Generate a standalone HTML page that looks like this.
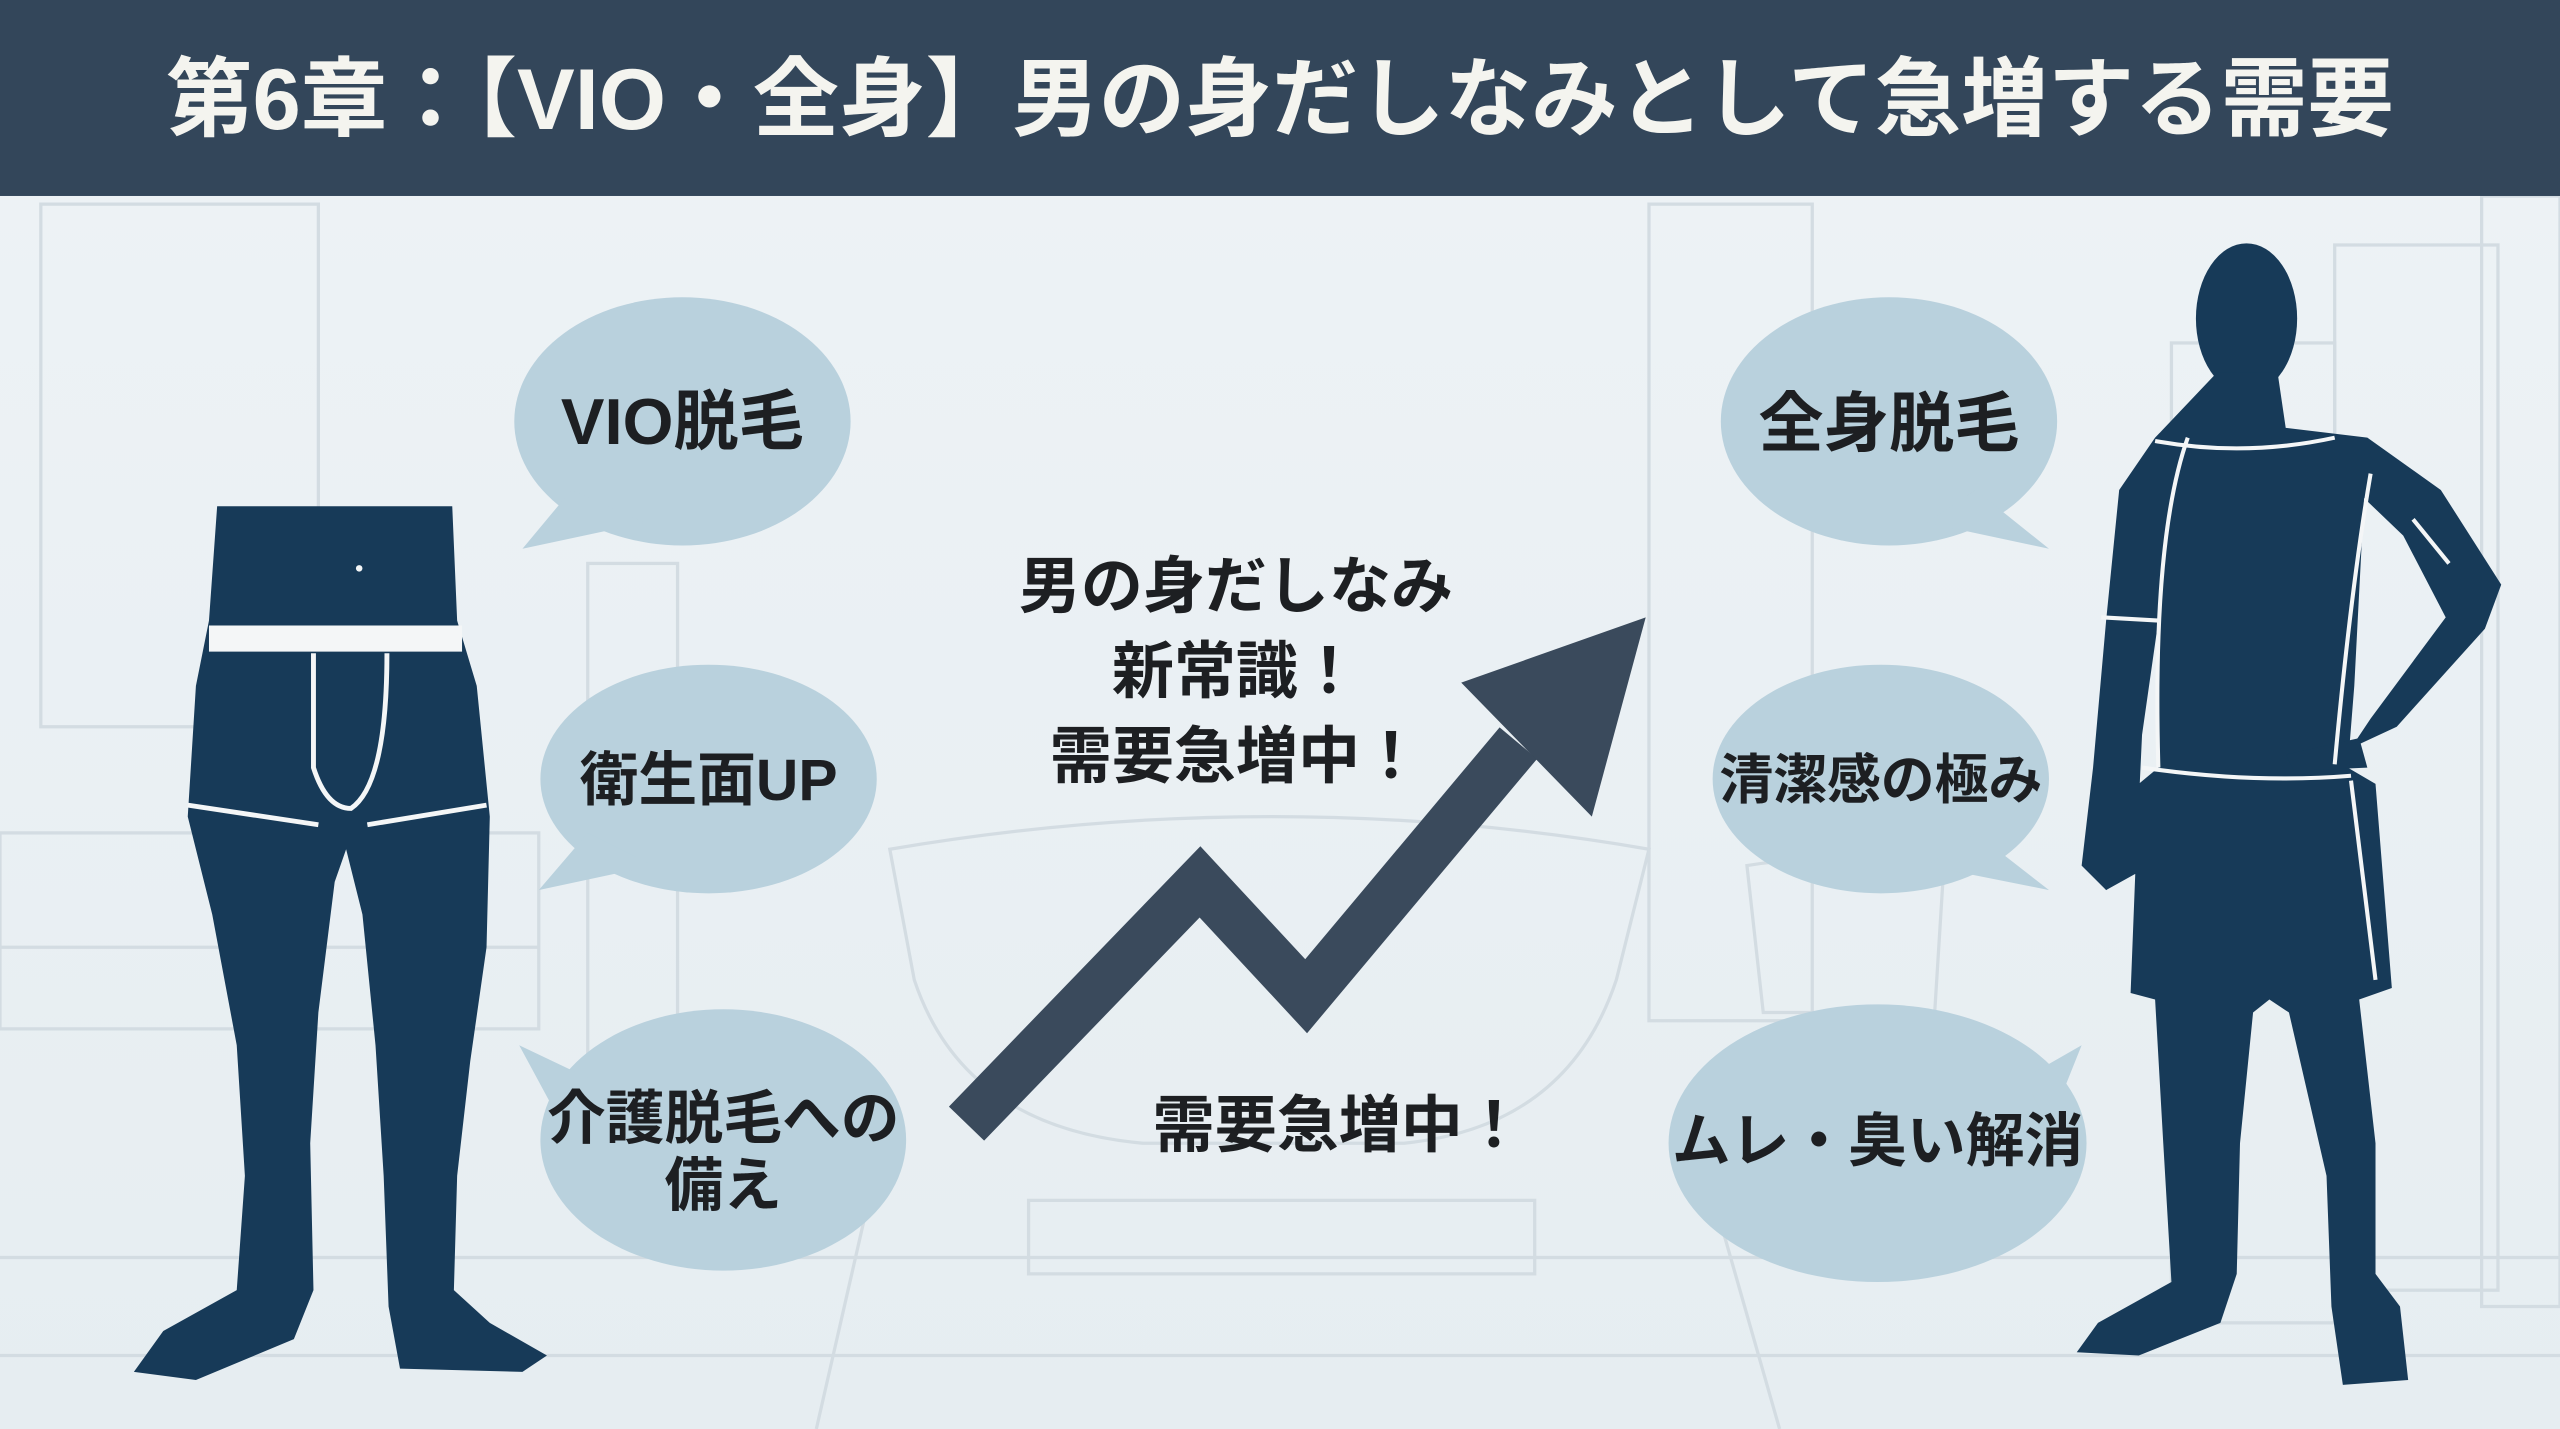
<!DOCTYPE html>
<html><head><meta charset="utf-8"><style>
html,body{margin:0;padding:0;width:2560px;height:1429px;overflow:hidden;background:#edf2f5}
svg{display:block}
text{font-family:"Liberation Sans","Noto Sans CJK JP",sans-serif;font-weight:700}
</style></head><body>
<svg width="2560" height="1429" viewBox="0 0 1568 875" preserveAspectRatio="none">
<defs><linearGradient id="bg" x1="0" y1="0" x2="0" y2="1"><stop offset="0" stop-color="#eef3f6"/><stop offset="1" stop-color="#e6edf1"/></linearGradient></defs>
<rect x="0" y="0" width="1568" height="875" fill="url(#bg)"/>
<g fill="none" stroke="#d3dce2" stroke-width="2">
<rect x="25" y="125" width="170" height="320"/>
<rect x="0" y="510" width="330" height="120"/>
<path d="M0,580 L330,580"/>
<rect x="360" y="345" width="55" height="330"/>
<path d="M545,520 Q780,480 1010,520 L990,600 Q960,690 860,700 L700,700 Q590,690 560,600 Z"/>
<rect x="630" y="735" width="310" height="45"/>
<path d="M0,770 L1568,770 M0,830 L1568,830 M540,700 L500,875 M1040,700 L1090,875"/>
<rect x="1010" y="125" width="100" height="500"/>
<path d="M1070,530 Q1130,520 1190,540 L1185,620 L1080,620 Z"/>
<rect x="1430" y="150" width="100" height="640"/>
<rect x="1520" y="120" width="48" height="680"/>
<rect x="1330" y="210" width="100" height="600"/>
</g>
<rect x="0" y="0" width="1568" height="120" fill="#33465a"/>
<text x="784" y="79" font-size="53" fill="#f4f4ef" text-anchor="middle">第6章：【VIO・全身】男の身だしなみとして急増する需要</text>
<g fill="#b9d1dd">
<ellipse cx="418" cy="258" rx="103" ry="76"/><path d="M350,300 L320,336 L395,320 Z"/>
<ellipse cx="434" cy="477" rx="103" ry="70"/><path d="M360,510 L330,545 L400,530 Z"/>
<ellipse cx="443" cy="698" rx="112" ry="80"/><path d="M360,660 L318,640 L345,690 Z"/>
<ellipse cx="1157" cy="258" rx="103" ry="76"/><path d="M1210,300 L1255,336 L1180,320 Z"/>
<ellipse cx="1152" cy="477" rx="103" ry="70"/><path d="M1210,510 L1255,545 L1180,530 Z"/>
<ellipse cx="1150" cy="700" rx="128" ry="85"/><path d="M1240,660 L1275,640 L1255,690 Z"/>
</g>
<g font-size="36" fill="#1d1f22" text-anchor="middle">
<text x="418" y="272" font-size="40">VIO脱毛</text>
<text x="434" y="490">衛生面UP</text>
<text x="443" y="697">介護脱毛への</text>
<text x="443" y="738">備え</text>
<text x="1157" y="273" font-size="40">全身脱毛</text>
<text x="1152" y="489" font-size="33">清潔感の極み</text>
<text x="1150" y="711">ムレ・臭い解消</text>
</g>
<g font-size="38" fill="#1d1f22" text-anchor="middle">
<text x="757" y="372">男の身だしなみ</text>
<text x="757" y="424">新常識！</text>
<text x="757" y="476">需要急増中！</text>
<text x="820" y="702">需要急増中！</text>
</g>
<polyline points="592,688 735,540 800,610 930,455" fill="none" stroke="#3a4a5c" stroke-width="30" stroke-linejoin="miter"/>
<polygon points="1008,378 895,418 975,500" fill="#3a4a5c"/>
<path fill="#173a58" d="M133,310 L277,310 L280,380 L292,420 L300,500 L298,580 L288,650 L280,720 L278,790 L300,810 L335,830 L320,840 L245,838 L238,800 L235,720 L230,640 L222,560 L212,520 L205,540 L195,620 L190,700 L192,790 L180,820 L120,845 L82,840 L100,815 L145,790 L150,720 L145,640 L130,560 L115,500 L120,420 L128,380 Z"/>
<rect x="128" y="383" width="155" height="16" fill="#f4f6f7"/>
<g fill="none" stroke="#f4f6f7" stroke-width="3">
<path d="M192,400 L192,470 Q200,495 215,495 Q237,480 237,400"/>
<path d="M115,493 L195,505 M225,505 L298,493"/>
</g>
<circle cx="220" cy="348" r="2" fill="#f4f6f7"/>
<g fill="#173a58">
<ellipse cx="1376" cy="195" rx="31" ry="46"/>
<path d="M1358,228 L1395,228 L1400,262 L1450,268 L1495,300 L1532,358 L1522,385 L1468,445 L1440,458 L1452,440 L1498,378 L1472,328 L1448,305 L1442,420 L1438,470 L1455,480 L1465,605 L1445,612 L1455,700 L1455,780 L1470,800 L1475,845 L1435,848 L1428,800 L1425,720 L1402,620 L1390,612 L1380,620 L1372,700 L1370,780 L1360,810 L1310,830 L1272,828 L1285,810 L1330,785 L1325,700 L1320,612 L1305,608 L1310,480 L1322,470 L1322,380 L1312,450 L1308,535 L1290,545 L1275,530 L1282,470 L1290,380 L1298,300 L1320,268 Z"/>
<path d="M1400,462 L1445,452 L1450,470 L1405,472 Z"/>
</g>
<g fill="none" stroke="#f4f6f7" stroke-width="2.5">
<path d="M1320,270 Q1375,280 1430,268 M1340,268 Q1318,330 1322,470 M1452,290 Q1440,360 1430,468"/>
<path d="M1287,378 L1322,380 M1478,318 L1500,345"/>
<path d="M1312,470 Q1380,480 1440,475 M1440,478 L1455,600"/>
</g>
</svg>
</body></html>
